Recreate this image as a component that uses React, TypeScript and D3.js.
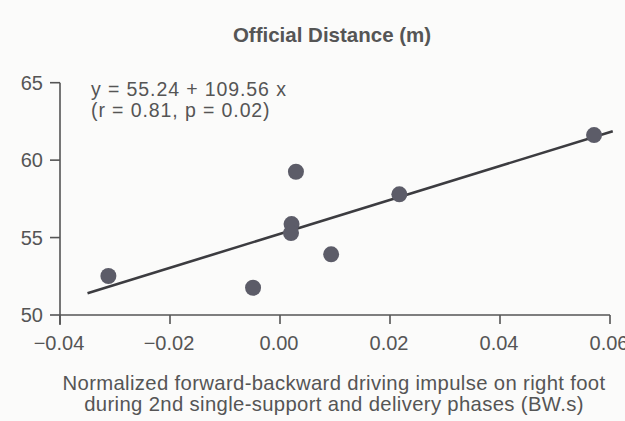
import React from "react";
import * as d3 from "d3";

const impulse = [-0.0312, -0.0049, 0.0029, 0.0021, 0.002, 0.0093, 0.0217, 0.0571];
const distance = [52.52, 51.76, 59.25, 55.87, 55.29, 53.92, 57.79, 61.62];
const xTicks = [-0.04, -0.02, 0.0, 0.02, 0.04, 0.06];
const yTicks = [50, 55, 60, 65];
const intercept = 55.24;
const slope = 109.56;
const fitRange = [-0.035, 0.0605];
const title = "Official Distance (m)";
const eqLines = ["y = 55.24 + 109.56 x", "(r = 0.81, p = 0.02)"];
const xTitle = [
  "Normalized forward-backward driving impulse on right foot",
  "during 2nd single-support and delivery phases (BW.s)",
];

const W = 625;
const H = 421;
const FONT = "'Liberation Sans', Arial, Helvetica, sans-serif";
const TXT = "#555";

export default function App() {
  const x = d3.scaleLinear().domain([-0.04, 0.06]).range([60, 610]);
  const y = d3.scaleLinear().domain([50, 65]).range([315, 82.7]);
  const fmt = (v: number) => (v < 0 ? "\u2212" : "") + Math.abs(v).toFixed(2);
  const line = d3
    .line<number>()
    .x((d) => x(d))
    .y((d) => y(intercept + slope * d));
  const pts = impulse.map((v, i) => ({ x: v, y: distance[i] }));

  return (
    <svg
      width={W}
      height={H}
      style={{ position: "absolute", left: 0, top: 0, display: "block" }}
      fontFamily={FONT}
    >
      <rect width={W} height={H} fill="#fbfbfa" />
      <text x={332} y={42} textAnchor="middle" fontSize={20.5} fontWeight="bold" fill={TXT}>
        {title}
      </text>
      {/* y axis */}
      <line x1={x(-0.04)} x2={x(-0.04)} y1={y(65)} y2={y(50) + 10} stroke={TXT} strokeWidth={1.6} />
      {yTicks.map((t) => (
        <g key={t}>
          <line x1={x(-0.04) - 10} x2={x(-0.04)} y1={y(t)} y2={y(t)} stroke={TXT} strokeWidth={1.6} />
          <text x={43} y={y(t) + 7} textAnchor="end" fontSize={20} fill={TXT}>
            {t}
          </text>
        </g>
      ))}
      {/* x axis */}
      <line x1={x(-0.04)} x2={x(0.06)} y1={y(50)} y2={y(50)} stroke={TXT} strokeWidth={1.6} />
      {xTicks.map((t) => (
        <g key={t}>
          <line x1={x(t)} x2={x(t)} y1={y(50)} y2={y(50) + 9} stroke={TXT} strokeWidth={1.6} />
          <text x={x(t) - 1} y={350} textAnchor="middle" fontSize={20} fill={TXT}>
            {fmt(t)}
          </text>
        </g>
      ))}
      {/* fit line */}
      <path d={line(fitRange) || ""} stroke="#3c3c40" strokeWidth={2.6} fill="none" />
      {pts.map((p, i) => (
        <circle key={i} cx={x(p.x)} cy={y(p.y)} r={8} fill="#5c5c68" />
      ))}
      {eqLines.map((s, i) => (
        <text key={i} x={91} y={96 + i * 20.5} fontSize={19.5} letterSpacing={0.9} fill={TXT}>
          {s}
        </text>
      ))}
      {xTitle.map((s, i) => (
        <text key={i} x={334} y={390 + i * 21} textAnchor="middle" fontSize={20.3} letterSpacing={0.35} fill={TXT}>
          {s}
        </text>
      ))}
    </svg>
  );
}
